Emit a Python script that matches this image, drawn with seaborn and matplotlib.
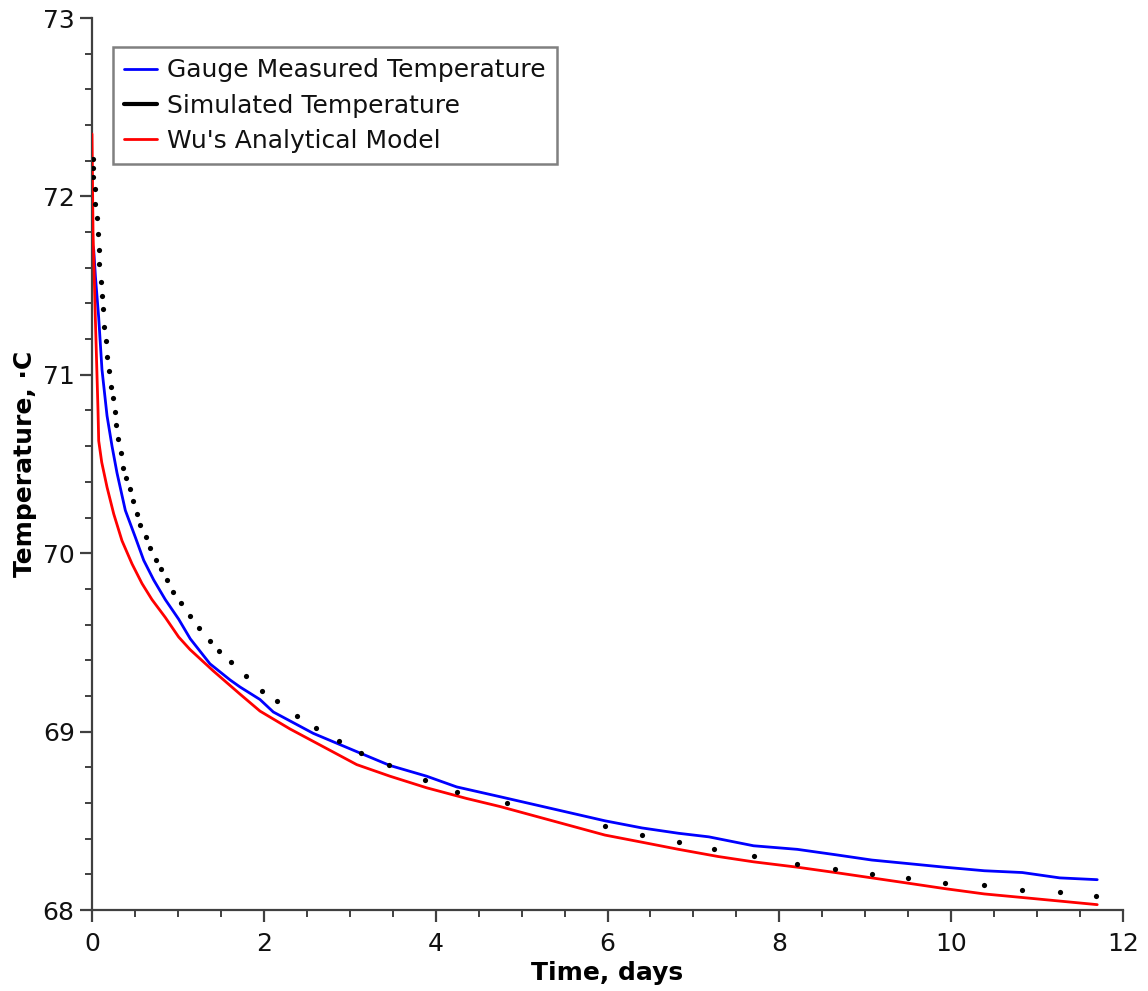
import matplotlib
matplotlib.use("Agg")
import matplotlib.pyplot as plt
import seaborn as sns
import pandas as pd
from matplotlib.lines import Line2D
from matplotlib.ticker import MultipleLocator

# ---- data ----
gauge_t = [0, 0.020, 0.040, 0.078, 0.116, 0.175, 0.233, 0.291, 0.388, 0.504, 0.602,
           0.718, 0.853, 1.009, 1.144, 1.373, 1.606, 1.723, 1.839, 1.955, 2.110,
           2.576, 3.119, 3.468, 3.895, 4.244, 4.749, 5.970, 6.401, 6.827, 7.180,
           7.700, 8.209, 8.651, 9.077, 9.503, 9.923, 10.386, 10.828, 11.264, 11.70]
gauge_T = [71.74, 71.70, 71.55, 71.32, 71.03, 70.77, 70.60, 70.45, 70.24, 70.09, 69.96,
           69.85, 69.74, 69.63, 69.52, 69.38, 69.29, 69.25, 69.215, 69.18, 69.11,
           68.99, 68.88, 68.81, 68.75, 68.69, 68.635, 68.50, 68.46, 68.43, 68.41,
           68.36, 68.34, 68.31, 68.28, 68.26, 68.24, 68.22, 68.21, 68.18, 68.17]

sim_t = [0.008, 0.013, 0.017, 0.038, 0.040, 0.054, 0.066, 0.085, 0.086, 0.101,
         0.113, 0.124, 0.143, 0.163, 0.175, 0.201, 0.221, 0.240, 0.268, 0.279,
         0.306, 0.338, 0.364, 0.399, 0.442, 0.474, 0.520, 0.562, 0.628, 0.672,
         0.748, 0.807, 0.869, 0.946, 1.036, 1.141, 1.245, 1.370, 1.478, 1.614,
         1.789, 1.975, 2.157, 2.386, 2.611, 2.871, 3.127, 3.457, 3.876, 4.248,
         4.827, 5.970, 6.401, 6.827, 7.237, 7.705, 8.209, 8.651, 9.077, 9.503,
         9.923, 10.386, 10.828, 11.264, 11.690]
sim_T = [72.21, 72.16, 72.11, 72.04, 71.96, 71.88, 71.79, 71.70, 71.62, 71.52,
         71.44, 71.37, 71.27, 71.19, 71.10, 71.02, 70.93, 70.87, 70.79, 70.72,
         70.64, 70.56, 70.48, 70.42, 70.36, 70.29, 70.22, 70.16, 70.09, 70.03,
         69.96, 69.91, 69.85, 69.78, 69.72, 69.65, 69.58, 69.51, 69.45, 69.39,
         69.31, 69.23, 69.17, 69.09, 69.02, 68.95, 68.88, 68.81, 68.73, 68.66,
         68.60, 68.47, 68.42, 68.38, 68.34, 68.30, 68.26, 68.23, 68.20, 68.18,
         68.15, 68.14, 68.11, 68.10, 68.08]

wu_t = [0, 0.012, 0.040, 0.070, 0.078, 0.113, 0.175, 0.253, 0.349, 0.466, 0.582,
        0.698, 0.853, 1.009, 1.141, 1.412, 1.723, 1.955, 2.304, 2.615, 3.081,
        3.468, 3.895, 4.361, 4.749, 5.970, 6.401, 6.827, 7.285, 7.700, 8.209,
        8.651, 9.077, 9.503, 9.923, 10.386, 10.828, 11.264, 11.70]
wu_T = [72.35, 71.80, 71.30, 70.80, 70.63, 70.51, 70.37, 70.22, 70.07, 69.94, 69.83,
        69.74, 69.64, 69.53, 69.46, 69.34, 69.21, 69.115, 69.015, 68.935, 68.815,
        68.75, 68.685, 68.625, 68.58, 68.42, 68.38, 68.34, 68.30, 68.27, 68.24,
        68.21, 68.18, 68.15, 68.12, 68.09, 68.07, 68.05, 68.03]

labels = ["Gauge Measured Temperature", "Simulated Temperature", "Wu's Analytical Model"]
x_label = "Time, days"
y_label = "Temperature, \u00b7C"

# ---- style ----
sns.set_style("ticks")
plt.rcParams['font.family'] = ['DejaVu Sans']

fig = plt.figure(figsize=(11.48, 9.91), dpi=100)
ax = fig.add_axes([92/1148, 81/991, 1031/1148, 892/991])

df_g = pd.DataFrame({"t": gauge_t, "T": gauge_T})
df_s = pd.DataFrame({"t": sim_t, "T": sim_T})
df_w = pd.DataFrame({"t": wu_t, "T": wu_T})

sns.lineplot(data=df_g, x="t", y="T", color="#0000ff", lw=2.0, estimator=None, ax=ax, zorder=3)
sns.lineplot(data=df_w, x="t", y="T", color="#ff0000", lw=2.0, estimator=None, ax=ax, zorder=3)
sns.scatterplot(data=df_s, x="t", y="T", color="black", s=14, marker="o", linewidth=0, ax=ax, zorder=4)

ax.set_xlim(0, 12)
ax.set_ylim(68, 73)
ax.xaxis.set_major_locator(MultipleLocator(2))
ax.xaxis.set_minor_locator(MultipleLocator(0.5))
ax.yaxis.set_major_locator(MultipleLocator(1))
ax.yaxis.set_minor_locator(MultipleLocator(0.2))

for side in ["top", "right"]:
    ax.spines[side].set_visible(False)
for side in ["left", "bottom"]:
    ax.spines[side].set_color("#404040")
    ax.spines[side].set_linewidth(1.6)

ax.tick_params(axis="both", which="major", length=8.5, width=1.6, color="#404040",
               labelsize=18, labelcolor="#111111", pad=4, direction="out")
ax.tick_params(axis="x", which="major", pad=7)
ax.tick_params(axis="both", which="minor", length=5, width=1.4, color="#404040", direction="out")

ax.set_xlabel(x_label, fontsize=18, fontweight="bold", labelpad=4, color="black")
ax.set_ylabel(y_label, fontsize=18, fontweight="bold", labelpad=4, color="black")

handles = [Line2D([], [], color="#0000ff", lw=2.0),
           Line2D([], [], color="black", lw=3.0),
           Line2D([], [], color="#ff0000", lw=2.0)]
leg = ax.legend(handles, labels, loc="upper left", bbox_to_anchor=(21/1031, 1 - 29/892),
                borderaxespad=0, fontsize=18, frameon=True, fancybox=False,
                edgecolor="#808080", framealpha=1, handlelength=1.3, handletextpad=0.4,
                labelspacing=0.45, borderpad=0.45)
leg.get_frame().set_linewidth(1.8)
for txt in leg.get_texts():
    txt.set_color("#111111")

fig.savefig("out.png", dpi=100)
